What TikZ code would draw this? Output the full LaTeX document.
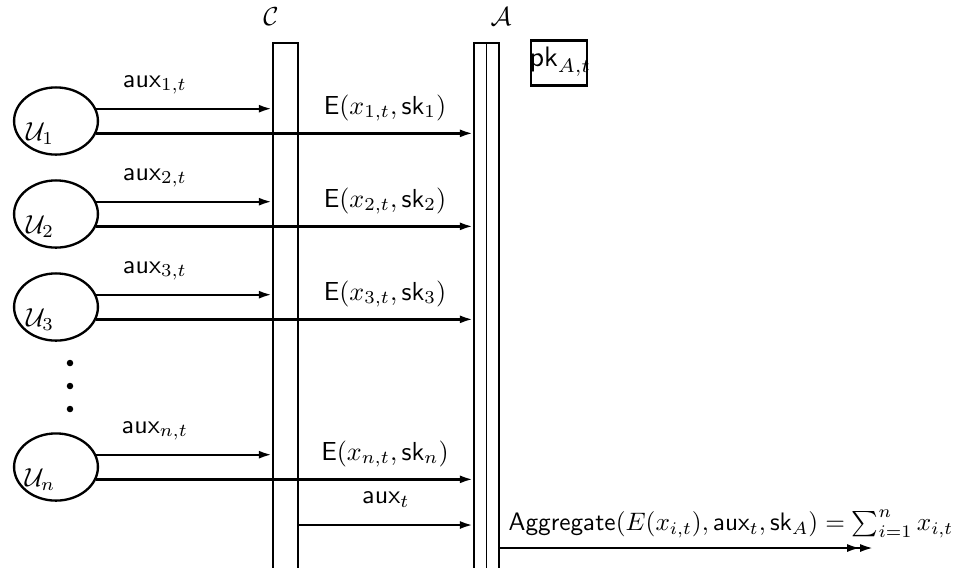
\documentclass[tikz,border=0pt]{standalone}
\usetikzlibrary{arrows.meta,shapes.geometric,calc}
\begin{document}
\begin{tikzpicture}[x=0.384pt,y=-0.384pt,
  user/.style={draw,ellipse,line width=0.9pt,minimum width=32.2pt,minimum height=25.8pt,inner sep=0pt},
  msg/.style={line width=0.9pt,-{Latex[length=5pt,width=3.1pt]}},
  lane/.style={draw,line width=0.9pt,minimum width=9.6pt,minimum height=240pt,inner sep=0pt,anchor=north},
  lbl/.style={inner sep=0pt},
  dot/.style={circle,fill,inner sep=0pt,minimum size=2.5pt}]
\useasboundingbox (0,0) rectangle (955,567);
\clip (0,0) rectangle (955,567);

% the two parties as vertical lanes
\node[lane] (C) at (285.5,42) {};
\node[lane] (A) at (486.5,42) {};
\draw[line width=0.6pt] (A.north) -- (A.south);
\node[lbl] (Clab) at (271,17) {$\mathcal{C}$};
\node[lbl] (Alab) at (501,17) {$\mathcal{A}$};

% public key of the aggregator
\node[draw,line width=0.9pt,minimum width=21.5pt,minimum height=17.3pt,inner sep=0pt] (pk) at (559,63) {};
\node[lbl,anchor=west,scale=1.08] (pklab) at ([xshift=-0.3pt,yshift=0.5pt]pk.west) {$\mathsf{pk}_{A,t}$};

% users with their messages
\foreach \i/\y in {1/121,2/214,3/307,n/467} {
  \node[user] (u\i) at (56,\y) {};
  \node[lbl] (ul\i) at ($(u\i)+(-16,13)$) {$\mathcal{U}_{\i}$};
  \draw[msg] (u\i.17) -- (u\i.17 -| C.west);
  \draw[msg] (u\i.-17) -- (u\i.-17 -| A.west);
  \node[lbl] (al\i) at ($(u\i)+(99,-36)$) {$\mathsf{aux}_{\i,t}$};
  \node[lbl] (el\i) at ($(u\i)+(329,-13)$) {$\mathsf{E}(x_{\i,t},\mathsf{sk}_{\i})$};
}

% ellipsis between the users
\node[dot] (d1) at (70,363) {};
\node[dot] (d2) at (70,386) {};
\node[dot] (d3) at (70,409) {};

% auxiliary value forwarded by C
\draw[msg] ($(C.north east)+(0,483)$) coordinate (s) -- (s -| A.west);
\node[lbl] (auxt) at (386,500) {$\mathsf{aux}_t$};

% aggregation output
\draw[line width=0.9pt,-{Latex[length=5pt,width=3.1pt] Latex[length=5pt,width=3.1pt]}]
  ($(A.north east)+(0,506)$) coordinate (g) -- ++(373,0) coordinate (gend);
\node[lbl,scale=0.97] (agg) at (731,524) {$\mathsf{Aggregate}(E(x_{i,t}),\mathsf{aux}_t,\mathsf{sk}_A)=\sum_{i=1}^n x_{i,t}$};
\end{tikzpicture}
\end{document}
